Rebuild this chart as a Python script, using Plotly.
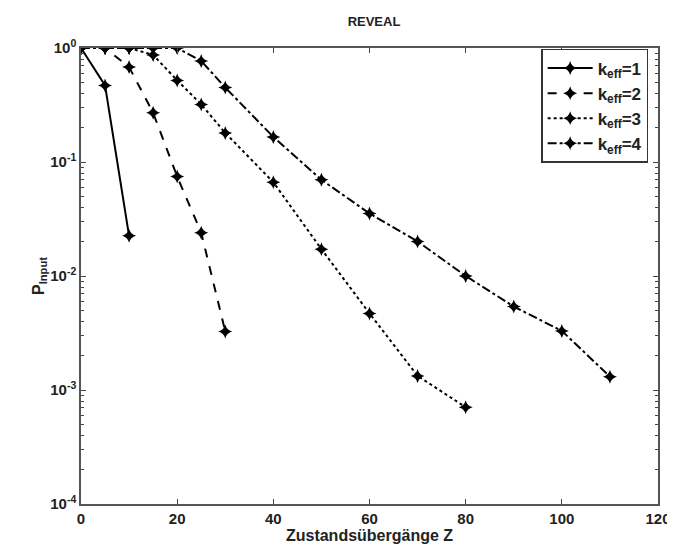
import plotly.graph_objects as go

x1 = [0, 5, 10]
y1 = [1.0, 0.47, 0.0225]
x2 = [0, 5, 10, 15, 20, 25, 30]
y2 = [1.0, 1.0, 0.68, 0.27, 0.0746, 0.024, 0.00326]
x3 = [0, 5, 10, 15, 20, 25, 30, 40, 50, 60, 70, 80]
y3 = [1.0, 1.0, 1.0, 0.87, 0.52, 0.32, 0.18, 0.0665, 0.0172, 0.0047, 0.00133, 0.000706]
x4 = [0, 5, 10, 15, 20, 25, 30, 40, 50, 60, 70, 80, 90, 100, 110]
y4 = [1.0, 1.0, 1.0, 1.0, 1.0, 0.77, 0.45, 0.166, 0.0698, 0.0354, 0.0201, 0.0100, 0.0054, 0.0033, 0.00131]
names = ["k<sub>eff</sub>=1", "k<sub>eff</sub>=2", "k<sub>eff</sub>=3", "k<sub>eff</sub>=4"]
dashes = ["solid", "dash", "dot", "dashdot"]

x_ticks = [0, 20, 40, 60, 80, 100, 120]
x_ticktext = ["0", "20", "40", "60", "80", "100", "120"]
y_ticks = [1e-4, 1e-3, 1e-2, 1e-1, 1]
y_ticktext = ["10<sup>-4</sup>", "10<sup>-3</sup>", "10<sup>-2</sup>", "10<sup>-1</sup>", "10<sup>0</sup>"]

font = "Liberation Sans, Arial, sans-serif"
fig = go.Figure()
for xs, ys, nm, ds in zip([x1, x2, x3, x4], [y1, y2, y3, y4], names, dashes):
    fig.add_trace(go.Scatter(
        x=xs, y=ys, name="<b>" + nm + "</b>", mode="lines+markers",
        line=dict(color="black", width=2, dash=ds),
        marker=dict(symbol="star-diamond", size=10, color="black"),
    ))

minor_vals = [m * 10 ** e for e in range(-4, 0) for m in range(2, 10)]

fig.update_layout(
    width=675, height=546,
    margin=dict(l=73, r=16, t=40, b=45),
    paper_bgcolor="white", plot_bgcolor="white",
    title=dict(text="<b>REVEAL</b>", x=(73 + 659) / 2 / 675, xanchor="center",
               y=1 - 13 / 546, yanchor="middle",
               font=dict(family=font, size=13, color="#222")),
    font=dict(family=font, color="#222"),
    showlegend=True,
    legend=dict(x=1 - 10 / 586, xanchor="right", y=1 - 1 / 461, yanchor="top",
                bgcolor="white", bordercolor="#333", borderwidth=1.5,
                font=dict(family=font, size=17, color="#222"),
                tracegroupgap=0, itemwidth=45),
    xaxis=dict(range=[0, 120], tickvals=x_ticks,
               ticktext=["<b>" + t + "</b>" for t in x_ticktext],
               ticks="inside", ticklen=5,
               showline=True, linecolor="#555", linewidth=1.5, mirror="ticks",
               showgrid=False, zeroline=False,
               tickfont=dict(family=font, size=15, color="#222"),
               title=dict(text="<b>Zustandsübergänge Z</b>", standoff=4,
                          font=dict(family=font, size=16, color="#222"))),
    yaxis=dict(type="log", range=[-4, 0], tickvals=y_ticks,
               ticktext=["<b>" + t + "</b>" for t in y_ticktext],
               ticks="inside", ticklen=5, showline=True, linecolor="#555",
               linewidth=1.5, mirror="ticks", showgrid=False, zeroline=False,
               minor=dict(tickvals=minor_vals, ticks="inside", ticklen=3, showgrid=False),
               tickfont=dict(family=font, size=15, color="#222"),
               title=dict(text="<b>P<sub>Input</sub></b>", standoff=2,
                          font=dict(family=font, size=16, color="#222"))),
)
fig.write_html("out.html")
